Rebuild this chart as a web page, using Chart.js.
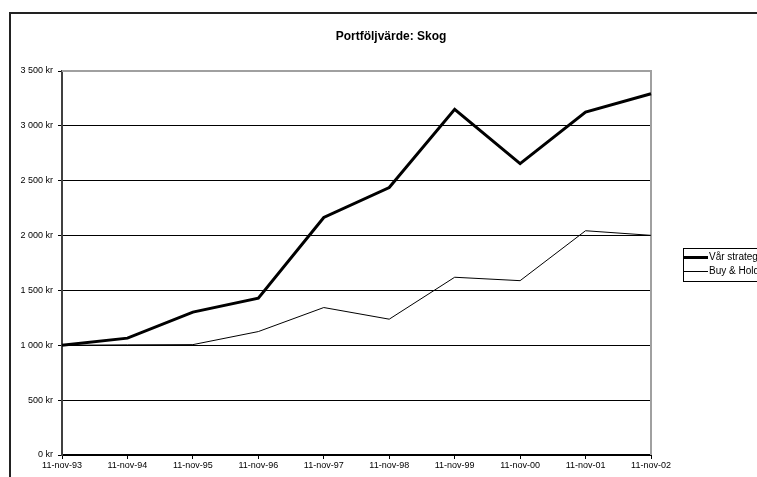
<!DOCTYPE html>
<html>
<head>
<meta charset="utf-8">
<script src="https://cdn.jsdelivr.net/npm/chart.js@4.4.0/dist/chart.umd.min.js"></script>
<style>
  html, body { margin: 0; padding: 0; background: #fff; overflow: hidden; }
  #wrap { width: 757px; height: 477px; position: relative; }
</style>
</head>
<body>
<div id="wrap"><canvas id="c" width="757" height="477"></canvas></div>
<script>
// Portfolio values per date (kr)
const categories = ['11-nov-93', '11-nov-94', '11-nov-95', '11-nov-96', '11-nov-97',
                    '11-nov-98', '11-nov-99', '11-nov-00', '11-nov-01', '11-nov-02'];
const varStrategi = [1000, 1065, 1302, 1429, 2165, 2438, 3150, 2656, 3125, 3293];
const buyHold     = [1000, 1004, 1006, 1125, 1344, 1238, 1620, 1589, 2044, 2002];
const seriesNames = ['Vår strategi', 'Buy & Hold'];
const chartTitle = 'Portföljvärde: Skog';
const yMin = 0, yMax = 3500, yStep = 500;

const FONT = '"Liberation Sans", Arial, sans-serif';

function formatKr(v) {
  return String(v).replace(/\B(?=(\d{3})+(?!\d))/g, ' ') + ' kr';
}

// Outer frame, title, plot-area border and legend box
const decorations = {
  id: 'decorations',
  beforeDraw(chart) {
    const ctx = chart.ctx;
    ctx.save();
    ctx.fillStyle = '#fff';
    ctx.fillRect(0, 0, chart.width, chart.height);
    ctx.strokeStyle = '#222';
    ctx.lineWidth = 2;
    ctx.strokeRect(10, 13, 900, 600);
    ctx.fillStyle = '#000';
    ctx.font = 'bold 12px ' + FONT;
    ctx.textAlign = 'center';
    ctx.textBaseline = 'middle';
    ctx.fillText(chartTitle, 391, 37);
    ctx.restore();
  },
  beforeDatasetsDraw(chart) {
    const { ctx, chartArea: a } = chart;
    ctx.save();
    ctx.strokeStyle = '#a0a0a0';
    ctx.lineWidth = 2;
    ctx.beginPath();
    ctx.moveTo(a.left, a.top);
    ctx.lineTo(a.right, a.top);
    ctx.lineTo(a.right, a.bottom);
    ctx.stroke();
    ctx.restore();
  },
  afterDraw(chart) {
    const ctx = chart.ctx;
    ctx.save();
    const bx = 683.5, by = 248.5;
    ctx.fillStyle = '#fff';
    ctx.fillRect(bx, by, 200, 33);
    ctx.strokeStyle = '#000';
    ctx.lineWidth = 1;
    ctx.strokeRect(bx, by, 200, 33);
    ctx.font = '10px ' + FONT;
    ctx.textAlign = 'left';
    ctx.textBaseline = 'middle';
    chart.data.datasets.forEach((ds, i) => {
      const y = 257.5 + i * 14;
      ctx.strokeStyle = ds.borderColor;
      ctx.lineWidth = ds.borderWidth;
      ctx.beginPath();
      ctx.moveTo(684, y);
      ctx.lineTo(708, y);
      ctx.stroke();
      ctx.fillStyle = '#000';
      ctx.fillText(ds.label, 709, y);
    });
    ctx.restore();
  }
};

new Chart(document.getElementById('c'), {
  type: 'line',
  data: {
    labels: categories,
    datasets: [
      { label: seriesNames[0], data: varStrategi, borderColor: '#000', borderWidth: 3,
        pointRadius: 0, tension: 0, fill: false },
      { label: seriesNames[1], data: buyHold, borderColor: '#000', borderWidth: 1,
        pointRadius: 0, tension: 0, fill: false }
    ]
  },
  options: {
    responsive: false,
    animation: false,
    devicePixelRatio: 1,
    layout: { padding: { left: 0, top: 71, right: 106, bottom: 0 } },
    plugins: {
      legend: { display: false },
      title: { display: false },
      tooltip: { enabled: false }
    },
    scales: {
      x: {
        type: 'category',
        offset: false,
        afterFit(s) { s.height = 22; },
        grid: { drawOnChartArea: false, drawTicks: true, tickLength: 4, tickColor: '#000' },
        border: { display: true, color: '#000', width: 2 },
        ticks: { color: '#000', font: { family: FONT, size: 9 }, padding: 1,
                 maxRotation: 0, autoSkip: false }
      },
      y: {
        min: yMin,
        max: yMax,
        afterFit(s) { s.width = 62; },
        grid: {
          color: (c) => (c.tick && c.tick.value === yMax) ? '#a0a0a0' : '#000',
          lineWidth: 1, drawTicks: true, tickLength: 4, tickColor: '#000'
        },
        border: { display: true, color: '#404040', width: 2 },
        ticks: { stepSize: yStep, color: '#000', font: { family: FONT, size: 9 }, padding: 5,
                 callback: (v) => formatKr(v) }
      }
    }
  },
  plugins: [decorations]
});
</script>
</body>
</html>
